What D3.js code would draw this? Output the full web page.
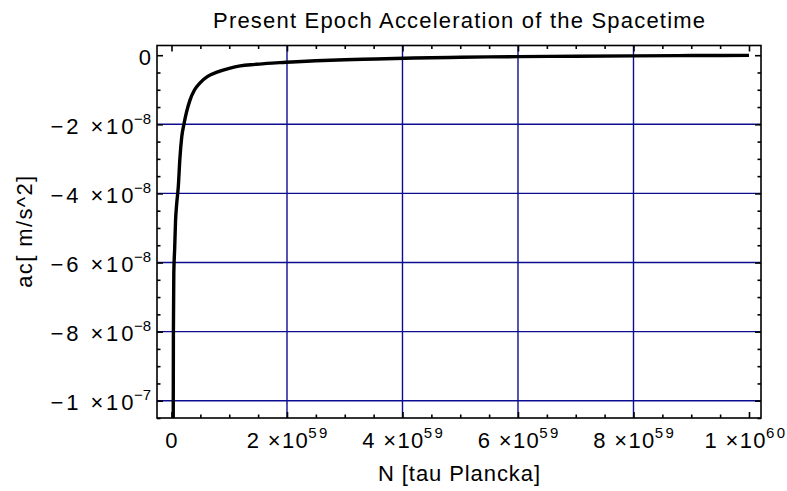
<!DOCTYPE html>
<html>
<head>
<meta charset="utf-8">
<script src="https://cdn.jsdelivr.net/npm/d3@7"></script>
<style>
  html, body { margin: 0; padding: 0; background: #fff; }
  svg { display: block; }
  text { font-family: "Liberation Sans", Arial, sans-serif; fill: #000; }
</style>
</head>
<body>
<svg id="chart" width="787" height="491"></svg>
<script>
// ---- data ----
const title = "Present Epoch Acceleration of the Spacetime";
const xLabel = "N [tau Plancka]";
const yLabel = "ac[ m/s^2]";

const nValues = [3.0e57, 3.3e57, 4.0e57, 5.5e57, 7.0e57, 9.0e57, 1.18e58, 1.45e58, 1.77e58, 2.16e58,
                 2.6e58, 3.2e58, 4.0e58, 4.94e58, 6.2e58, 7.88e58, 1.0e59, 1.19e59, 1.45e59, 1.65e59,
                 1.98e59, 2.5e59, 3.0e59, 3.54e59, 4.2e59, 5.0e59, 6.0e59, 7.0e59, 8.0e59, 9.0e59, 1.0e60];
const acValues = [-10.6e-8, -8.0e-8, -6.3e-8, -5.6e-8, -4.8e-8, -4.3e-8, -3.8e-8, -3.0e-8, -2.37e-8, -1.99e-8,
                  -1.65e-8, -1.30e-8, -1.0e-8, -0.80e-8, -0.62e-8, -0.49e-8, -0.38e-8, -0.31e-8, -0.265e-8, -0.235e-8,
                  -0.205e-8, -0.16e-8, -0.13e-8, -0.11e-8, -0.08e-8, -0.06e-8, -0.04e-8, -0.03e-8, -0.02e-8, -0.01e-8, -0.005e-8];

const xTicks = [0, 2e59, 4e59, 6e59, 8e59, 1e60];
const xTickBase = ["0", "2 \u00d710", "4 \u00d710", "6 \u00d710", "8 \u00d710", "1 \u00d710"];
const xTickExp  = ["", "59", "59", "59", "59", "60"];
const xGrid = [2e59, 4e59, 6e59, 8e59];

const yTicks = [0, -2e-8, -4e-8, -6e-8, -8e-8, -1e-7];
const yTickBase = ["0", "\u22122 \u00d710", "\u22124 \u00d710", "\u22126 \u00d710", "\u22128 \u00d710", "\u22121 \u00d710"];
const yTickExp  = ["", "\u22128", "\u22128", "\u22128", "\u22128", "\u22127"];
const yGrid = [-2e-8, -4e-8, -6e-8, -8e-8, -1e-7];

const xDomain = [-0.0251e60, 1.0208e60];
const yDomain = [-1.050e-7, 0.0281e-7];

// ---- layout ----
const W = 787;
const plot = { left: 157, right: 761, top: 45.5, bottom: 418 };
const svg = d3.select("#chart");

const x = d3.scaleLinear().domain(xDomain).range([plot.left, plot.right]);
const y = d3.scaleLinear().domain(yDomain).range([plot.bottom, plot.top]);

// minor ticks
const xMinor = d3.range(0, 1.0201e60, 0.5e59).filter(v => !xTicks.some(t => Math.abs(t - v) < 1e50));
const yMinor = d3.range(0, -1.0501e-7, -0.5e-8).filter(v => !yTicks.some(t => Math.abs(t - v) < 1e-12));

// grid
const gridColor = "#0c0c90";
svg.append("g").selectAll("line").data(xGrid).join("line")
  .attr("x1", d => x(d)).attr("x2", d => x(d))
  .attr("y1", plot.top).attr("y2", plot.bottom)
  .attr("stroke", gridColor).attr("stroke-width", 1.4);
svg.append("g").selectAll("line").data(yGrid).join("line")
  .attr("x1", plot.left).attr("x2", plot.right)
  .attr("y1", d => y(d)).attr("y2", d => y(d))
  .attr("stroke", gridColor).attr("stroke-width", 1.4);

// axes ticks (inward) via d3 axis generators
function tickAxis(gen, tr, vals, size) {
  const g = svg.append("g").attr("transform", tr)
    .call(gen.tickValues(vals).tickSizeInner(-size).tickSizeOuter(0).tickFormat(""));
  g.select(".domain").remove();
  g.selectAll(".tick line").attr("stroke", "#000").attr("stroke-width", 1.6);
}
tickAxis(d3.axisBottom(x), `translate(0,${plot.bottom})`, xTicks, 6);
tickAxis(d3.axisBottom(x), `translate(0,${plot.bottom})`, xMinor, 3.5);
tickAxis(d3.axisTop(x), `translate(0,${plot.top})`, xTicks, 6);
tickAxis(d3.axisTop(x), `translate(0,${plot.top})`, xMinor, 3.5);
tickAxis(d3.axisLeft(y), `translate(${plot.left},0)`, yTicks, 6);
tickAxis(d3.axisLeft(y), `translate(${plot.left},0)`, yMinor, 3.5);
tickAxis(d3.axisRight(y), `translate(${plot.right},0)`, yTicks, 6);
tickAxis(d3.axisRight(y), `translate(${plot.right},0)`, yMinor, 3.5);

// curve
svg.append("defs").append("clipPath").attr("id", "clip")
  .append("rect").attr("x", plot.left).attr("y", plot.top)
  .attr("width", plot.right - plot.left).attr("height", plot.bottom - plot.top);

const pts = nValues.map((n, i) => [n, acValues[i]]);
svg.append("path").datum(pts)
  .attr("clip-path", "url(#clip)")
  .attr("fill", "none").attr("stroke", "#000").attr("stroke-width", 3.4)
  .attr("stroke-linejoin", "round")
  .attr("d", d3.line().x(d => x(d[0])).y(d => y(d[1])).curve(d3.curveMonotoneX));

// frame
svg.append("rect")
  .attr("x", plot.left).attr("y", plot.top)
  .attr("width", plot.right - plot.left).attr("height", plot.bottom - plot.top)
  .attr("fill", "none").attr("stroke", "#000").attr("stroke-width", 1.6);

// tick labels with superscripts
function label(base, exp, anchorX, baselineY, align, baseLen, expLen) {
  const g = svg.append("g");
  const t = g.append("text").attr("x", 0).attr("y", 0)
    .attr("font-size", 22).text(base);
  let w;
  if (exp) {
    t.attr("textLength", baseLen).attr("lengthAdjust", "spacing");
    w = baseLen;
    g.append("text").attr("x", w + 0.5).attr("y", -10)
      .attr("font-size", 15).attr("textLength", expLen).attr("lengthAdjust", "spacing").text(exp);
    w = w + 0.5 + expLen;
  } else {
    w = t.node().getComputedTextLength();
  }
  let tx = align === "end" ? anchorX - w : anchorX - w / 2;
  tx = Math.min(tx, W - 2 - w); // keep the label inside the picture
  g.attr("transform", `translate(${tx},${baselineY})`);
}
xTicks.forEach((v, i) => label(xTickBase[i], xTickExp[i], x(v), 448, "middle", 61, 19));
yTicks.forEach((v, i) => label(yTickBase[i], yTickExp[i], 151, y(v) + 9.5, "end", 83, 17));

// title and axis titles
svg.append("text").attr("x", (plot.left + plot.right) / 2).attr("y", 28)
  .attr("text-anchor", "middle").attr("font-size", 22)
  .attr("textLength", 492).attr("lengthAdjust", "spacing").text(title);
svg.append("text").attr("x", (plot.left + plot.right) / 2).attr("y", 481)
  .attr("text-anchor", "middle").attr("font-size", 22)
  .attr("textLength", 162).attr("lengthAdjust", "spacing").text(xLabel);
svg.append("text").attr("transform", `translate(32,${(plot.top + plot.bottom) / 2}) rotate(-90)`)
  .attr("text-anchor", "middle").attr("font-size", 22)
  .attr("textLength", 112).attr("lengthAdjust", "spacing").text(yLabel);
</script>
</body>
</html>
